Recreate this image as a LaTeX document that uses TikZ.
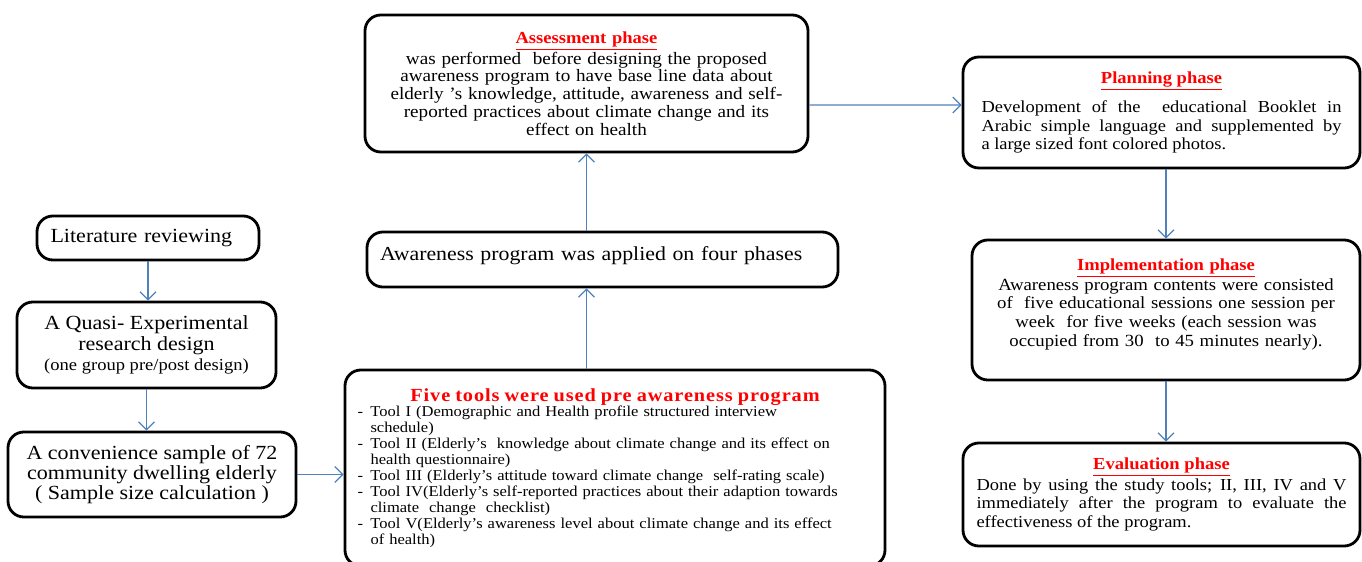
\documentclass[tikz,border=0pt]{standalone}
\usepackage{fontspec}
\setmainfont{Liberation Serif}[FakeStretch=1.1]
\usetikzlibrary{arrows.meta,positioning}

\definecolor{flowblue}{HTML}{4F81BD}
\definecolor{headred}{HTML}{FF0000}
\newcommand{\phasehead}[1]{{\fontsize{9.6}{11.5}\selectfont\color{headred}\bfseries\underline{#1}}}
\newcommand{\tooldash}{\makebox[0.26cm][l]{-}}
\newcommand{\toolcont}{\hspace*{0.26cm}}

\begin{document}
\begin{tikzpicture}[
  box/.style={draw=black,rounded corners=9pt,line width=1.6pt,fill=white,inner sep=3pt},
  flow/.style={-{Straight Barb[length=4.5pt,width=9pt]},draw=flowblue,line width=0.7pt}]
  \useasboundingbox (0,0) rectangle (27.24,-11.24);
  % ---------- study design (left column)
  \node[box,minimum width=4.44cm,minimum height=0.88cm,text width=3.9cm,align=left,font=\fontsize{11.4}{13}\selectfont] (lit) at (2.96,-4.76) {Literature reviewing};
  \node[box,minimum width=5.18cm,minimum height=1.72cm,align=center,font=\fontsize{11.4}{11.6}\selectfont] (quasi) at (2.93,-6.9)
    {A Quasi- Experimental\\research design\\{\fontsize{9.6}{11.6}\selectfont(one group pre/post design)}};
  \node[box,minimum width=5.76cm,minimum height=1.7cm,align=center,font=\fontsize{11.4}{11.6}\selectfont] (conv) at (3.04,-9.49)
    {A convenience sample of 72\\community dwelling elderly\\( Sample size calculation )};
  \draw[flow] (lit.south) -- (lit.south |- quasi.north);
  \draw[flow] (quasi.south) -- (quasi.south |- conv.north);
  % ---------- tools and program (middle column)
  \node[box,minimum width=10.8cm,minimum height=3.92cm,text width=10.3cm,align=left,font=\fontsize{8.55}{9.05}\selectfont] (tools) at (12.3,-9.36)
    {\rule{0pt}{4pt}\\[-6pt]
     \makebox[10.3cm]{\fontsize{10.5}{12}\selectfont\bfseries\color{headred}\addfontfeatures{LetterSpace=5}Five tools were used pre awareness program}\\
     \tooldash Tool I (Demographic and Health profile structured interview\\
     \toolcont schedule)\\
     \tooldash Tool II (Elderly's\ \ knowledge about climate change and its effect on\\
     \toolcont health questionnaire)\\
     \tooldash Tool III (Elderly's attitude toward climate change\ \ self-rating scale)\\
     \tooldash Tool IV(Elderly's self-reported practices about their adaption towards\\
     \toolcont climate\ \ change\ \ checklist)\\
     \tooldash Tool V(Elderly's awareness level about climate change and its effect\\
     \toolcont of health)};
  \node[box,minimum width=9.42cm,minimum height=1.1cm,text width=8.9cm,align=left,text depth=0.25cm,font=\fontsize{11.3}{13}\selectfont] (aware) at (12.05,-5.19)
    {Awareness program was applied on four phases};
  \node[box,minimum width=8.86cm,minimum height=2.74cm,text width=8.4cm,align=center,font=\fontsize{9.9}{10.15}\selectfont] (assess) at (11.73,-1.67)
    {\phasehead{Assessment phase}\\
     was performed\ \ before designing the proposed\\
     awareness program to have base line data about\\
     elderly 's knowledge, attitude, awareness and self-\\
     reported practices about climate change and its\\
     effect on health};
  \draw[flow] (conv.east) -- (conv.east -| tools.west);
  \draw[flow] (tools.north -| assess.south) -- (aware.south -| assess.south);
  \draw[flow] (aware.north -| assess.south) -- (assess.south);
  % ---------- phases (right column)
  \node[box,minimum width=7.94cm,minimum height=2.22cm,text width=7.2cm,align=justify,font=\fontsize{9.55}{10.6}\selectfont] (plan) at (23.23,-2.25)
    {\centering\phasehead{Planning phase}\par\vspace{5pt}
     Development of the\ \ educational Booklet in\linebreak
     Arabic simple language and supplemented by\linebreak
     a large sized font colored photos.};
  \node[box,minimum width=7.76cm,minimum height=2.8cm,text width=7.2cm,align=center,font=\fontsize{9.7}{10.3}\selectfont] (impl) at (23.32,-6.2)
    {\phasehead{Implementation phase}\\
     Awareness program contents were consisted\\
     of\ \ five educational sessions one session per\\
     week\ \ for five weeks (each session was\\[1pt]
     occupied from 30\ \ to 45 minutes nearly).\\[-2pt]
     \rule{0pt}{4pt}};
  \node[box,minimum width=7.94cm,minimum height=2.06cm,text width=7.4cm,align=justify,font=\fontsize{9.55}{10.6}\selectfont] (eval) at (23.23,-9.89)
    {\centering\phasehead{Evaluation phase}\par
     Done by using the study tools; II, III, IV and V\linebreak
     immediately after the program to evaluate the\linebreak
     effectiveness of the program.};
  \draw[flow] ([yshift=-0.43cm]assess.east) -- ([yshift=0.15cm]plan.west);
  \draw[flow] (plan.south -| impl.north) -- (impl.north);
  \draw[flow] (impl.south) -- (eval.north -| impl.south);
\end{tikzpicture}
\end{document}
